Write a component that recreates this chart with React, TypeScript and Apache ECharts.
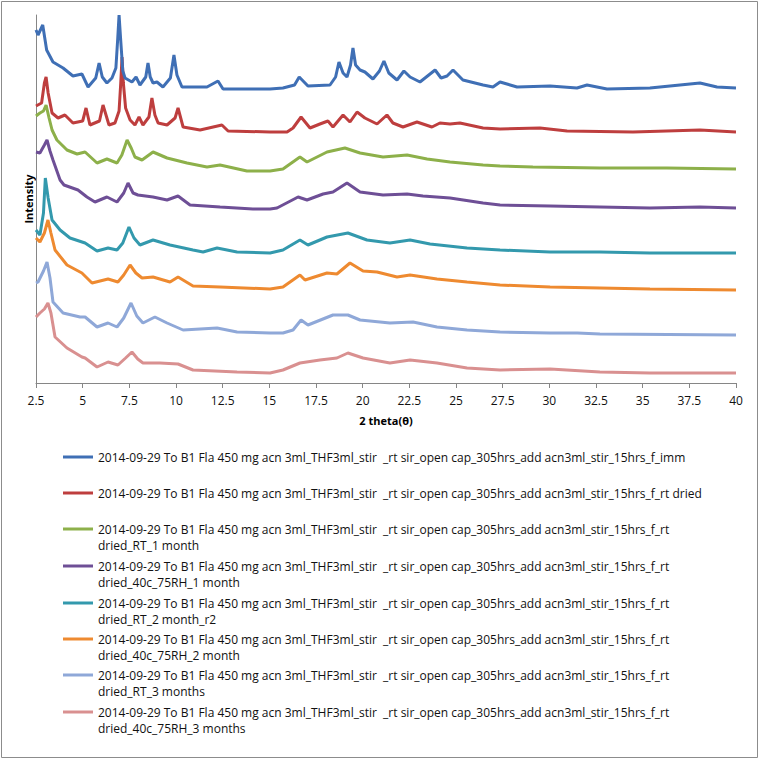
import React, { useEffect, useRef } from "react";
import * as echarts from "echarts";

// 2θ axis ticks
const xMin = 2.5;
const xMax = 40;
const xStep = 2.5;

const baseName =
  "2014-09-29 To B1 Fla 450 mg acn 3ml_THF3ml_stir  _rt sir_open cap_305hrs_add acn3ml_stir_15hrs_f_";
const seriesNames = [
  baseName + "imm",
  baseName + "rt dried",
  baseName + "rt dried_RT_1 month",
  baseName + "rt dried_40c_75RH_1 month",
  baseName + "rt dried_RT_2 month_r2",
  baseName + "rt dried_40c_75RH_2 month",
  baseName + "rt dried_RT_3 months",
  baseName + "rt dried_40c_75RH_3 months",
];
const colors = ["#3F6FB5", "#BE3E3E", "#8DB04A", "#6E4F96", "#3399AD", "#EE8A30", "#8FA8D8", "#D99090"];

// [2θ, intensity (arbitrary, stacked offsets)]
const imm = [
  [2.5, 353], [2.61, 348], [2.86, 358], [3.07, 333], [3.41, 321], [3.95, 315], [4.48, 307], [4.96, 309],
  [5.29, 296], [5.7, 305], [5.88, 320], [6.05, 306], [6.3, 300], [6.57, 305], [6.78, 315], [6.88, 345],
  [6.95, 368], [7.03, 345], [7.15, 312], [7.27, 305], [7.64, 301], [7.86, 306], [8.07, 298], [8.38, 306],
  [8.5, 320], [8.62, 306], [8.77, 300], [8.98, 301], [9.3, 296], [9.7, 305], [9.89, 328], [10.05, 308],
  [10.32, 296], [11.66, 296], [12.25, 302], [12.52, 294], [15.04, 294], [15.73, 295], [16.35, 298],
  [16.6, 306], [17.07, 297], [18.25, 298], [18.55, 306], [18.73, 321], [18.95, 310], [19.16, 306],
  [19.35, 318], [19.48, 335], [19.62, 318], [19.86, 313], [20.12, 311], [20.55, 304], [20.9, 312],
  [21.14, 322], [21.4, 310], [21.84, 303], [22.21, 312], [22.54, 306], [23.07, 301], [23.88, 313],
  [24.2, 305], [24.52, 307], [24.84, 313], [25.37, 303], [26.45, 298], [26.98, 296], [27.36, 301],
  [28.27, 296], [30.04, 297], [31.48, 295], [32.02, 298], [33.09, 294], [35.39, 295], [38.07, 300],
  [38.98, 296], [40, 295],
];
const rtDried = [
  [2.5, 277], [2.8, 280], [2.95, 300], [3.04, 306], [3.15, 290], [3.36, 270], [3.68, 265], [4.05, 268],
  [4.48, 260], [5.0, 262], [5.18, 275], [5.39, 258], [5.9, 262], [6.09, 278], [6.41, 258], [6.73, 260],
  [6.95, 272], [7.04, 300], [7.11, 326], [7.18, 300], [7.3, 275], [7.54, 263], [7.8, 258], [8.02, 266],
  [8.23, 258], [8.55, 266], [8.71, 285], [8.87, 268], [9.04, 260], [9.52, 258], [9.95, 265], [10.11, 275],
  [10.38, 256], [11.29, 253], [12.46, 258], [12.79, 252], [15.04, 251], [15.95, 251], [16.27, 255],
  [16.7, 266], [17.18, 255], [17.71, 259], [18.14, 262], [18.41, 256], [18.95, 268], [19.32, 261],
  [19.7, 271], [20.12, 265], [20.77, 259], [21.3, 268], [21.62, 260], [22.16, 256], [22.91, 261],
  [23.71, 256], [24.14, 260], [24.68, 259], [25.21, 260], [26.45, 255], [27.36, 254], [29.5, 255],
  [30.95, 252], [34.48, 251], [38.07, 253], [40, 251],
];
const rt1m = [
  [2.5, 267], [2.71, 270], [2.9, 272], [3.04, 278], [3.2, 265], [3.36, 253], [3.62, 243], [4.16, 233],
  [4.7, 229], [5.13, 231], [5.77, 220], [6.3, 224], [6.84, 220], [7.1, 228], [7.38, 243], [7.6, 235],
  [7.8, 226], [8.18, 223], [8.77, 231], [9.52, 225], [10.59, 220], [11.66, 216], [12.36, 218],
  [13.8, 212], [15.04, 212], [15.73, 214], [16.64, 226], [17.02, 221], [18.09, 231], [19.05, 235],
  [19.86, 230], [21.09, 226], [22.38, 228], [23.45, 224], [24.68, 221], [26.45, 218], [27.36, 217],
  [29.12, 216], [32.71, 215], [36.3, 215], [40, 214],
];
const rh1m = [
  [2.5, 231], [2.71, 230], [2.95, 238], [3.09, 243], [3.25, 232], [3.41, 223], [3.79, 203], [4.0, 198],
  [4.75, 193], [5.23, 186], [5.66, 181], [6.3, 186], [6.84, 181], [7.2, 190], [7.43, 200], [7.7, 190],
  [7.96, 188], [8.77, 186], [9.52, 183], [10.11, 187], [10.75, 178], [12.36, 176], [14.12, 174],
  [15.04, 174], [15.41, 175], [16.54, 186], [17.02, 183], [17.88, 189], [18.41, 191], [19.16, 200],
  [19.86, 191], [21.09, 188], [22.38, 189], [23.23, 187], [24.68, 185], [26.45, 180], [27.36, 178],
  [30.04, 177], [32.71, 176], [35.39, 175], [38.07, 176], [40, 175],
];
const rt2m = [
  [2.5, 153], [2.71, 148], [2.9, 170], [3.0, 205], [3.15, 185], [3.36, 163], [3.79, 153], [4.32, 145],
  [5.13, 140], [5.77, 132], [6.36, 135], [6.84, 133], [7.15, 140], [7.48, 156], [7.75, 145], [8.07, 138],
  [8.77, 143], [9.68, 138], [10.91, 133], [11.45, 131], [12.2, 135], [13.27, 131], [15.04, 130],
  [15.73, 133], [16.64, 143], [17.07, 138], [18.09, 146], [19.21, 150], [20.23, 143], [21.46, 140],
  [22.54, 143], [23.61, 139], [25.59, 135], [27.36, 133], [30.04, 131], [32.71, 131], [35.39, 130],
  [40, 130],
];
const rh2m = [
  [2.5, 145], [2.71, 141], [2.95, 150], [3.14, 163], [3.3, 150], [3.52, 133], [4.16, 118], [4.96, 110],
  [5.5, 100], [6.36, 104], [6.89, 101], [7.2, 108], [7.54, 118], [7.85, 110], [8.18, 105], [8.77, 106],
  [9.68, 101], [10.11, 106], [10.91, 97], [12.36, 96], [15.04, 94], [15.73, 96], [16.64, 108],
  [16.91, 103], [18.09, 110], [18.62, 109], [19.32, 120], [20.02, 112], [20.77, 111], [21.84, 106],
  [22.54, 108], [23.98, 104], [25.59, 101], [27.36, 98], [30.04, 96], [32.71, 95], [35.39, 94], [40, 93],
];
const rt3m = [
  [2.5, 100], [2.61, 101], [2.9, 112], [3.09, 121], [3.25, 105], [3.41, 81], [3.95, 70], [4.86, 66],
  [5.13, 66], [5.77, 56], [6.36, 60], [6.84, 56], [7.2, 65], [7.59, 80], [7.9, 67], [8.23, 60],
  [8.87, 66], [9.52, 60], [10.38, 53], [12.2, 55], [13.27, 51], [15.04, 50], [15.73, 50], [16.27, 53],
  [16.7, 63], [17.07, 58], [18.41, 68], [19.21, 68], [19.86, 63], [21.46, 60], [22.7, 61], [23.98, 56],
  [25.59, 53], [27.36, 51], [30.04, 50], [31.5, 50], [32.71, 49], [40, 48],
];
const rh3m = [
  [2.5, 66], [2.71, 70], [2.95, 74], [3.14, 80], [3.3, 70], [3.52, 46], [4.16, 35], [4.96, 26],
  [5.13, 25], [5.77, 16], [6.36, 21], [6.89, 18], [7.3, 25], [7.64, 31], [7.95, 24], [8.23, 20],
  [9.14, 20], [10.11, 19], [10.91, 13], [13.27, 11], [15.04, 10], [15.73, 13], [16.64, 20], [17.71, 23],
  [18.62, 25], [19.21, 30], [20.02, 25], [21.46, 20], [22.54, 23], [23.98, 20], [25.59, 15], [27.36, 13],
  [30.04, 14], [32.71, 11], [35.39, 10], [40, 10],
];
const seriesData = [imm, rtDried, rt1m, rh1m, rt2m, rh2m, rt3m, rh3m];

const FONT = "'Open Sans', sans-serif";
const legendRowCenters = [457, 493, 529, 566, 603, 639, 675, 712];
const LH = 16;

export default function App() {
  const ref = useRef<HTMLDivElement>(null);
  useEffect(() => {
    if (!ref.current) return;
    const chart = echarts.init(ref.current, null, { renderer: "svg" });
    const isTwoLine = (n: string) => n.indexOf("dried_") >= 0;
    const wrap = (n: string) =>
      isTwoLine(n) ? " \n" + n.replace("_f_rt dried_", "_f_rt\ndried_") : n;
    chart.setOption({
      animation: false,
      backgroundColor: "#ffffff",
      graphic: [
        {
          type: "rect",
          shape: { x: 1.5, y: 1.5, width: 756, height: 756 },
          style: { fill: "none", stroke: "#8c8c8c", lineWidth: 1 },
          silent: true,
        },
      ],
      grid: { left: 36, right: 23, top: 15, bottom: 376, containLabel: false },
      xAxis: {
        type: "value",
        min: xMin,
        max: xMax,
        interval: xStep,
        name: "2 theta(θ)",
        nameLocation: "middle",
        nameGap: 32,
        nameTextStyle: { fontFamily: FONT, fontSize: 11, fontWeight: "bold", color: "#000" },
        axisLine: { show: true, lineStyle: { color: "#868686", width: 1 } },
        axisTick: { show: true, inside: false, length: 5, lineStyle: { color: "#868686" } },
        axisLabel: { fontFamily: FONT, fontSize: 12, color: "#111", margin: 11 },
        splitLine: { show: false },
      },
      yAxis: {
        type: "value",
        min: 0,
        max: 368,
        name: "Intensity",
        nameLocation: "middle",
        nameGap: 2,
        nameTextStyle: { fontFamily: FONT, fontSize: 11, fontWeight: "bold", color: "#000" },
        axisLine: { show: true, lineStyle: { color: "#868686", width: 1 } },
        axisTick: { show: false },
        axisLabel: { show: false },
        splitLine: { show: false },
      },
      legend: seriesNames.map((n, i) => ({
        data: [n],
        left: 63,
        top: legendRowCenters[i] - (isTwoLine(n) ? 1.5 * LH : 0.5 * LH),
        orient: "vertical",
        padding: 0,
        itemGap: 0,
        itemWidth: 30,
        itemHeight: 3,
        icon: "rect",
        selectedMode: false,
        formatter: wrap,
        textStyle: {
          fontFamily: FONT,
          fontSize: 12,
          color: "#111",
          lineHeight: LH,
        },
      })),
      series: seriesNames.map((n, i) => ({
        name: n,
        type: "line",
        data: seriesData[i],
        symbol: "none",
        showSymbol: false,
        color: colors[i],
        lineStyle: { width: 3, color: colors[i] },
        z: 10 - i,
      })),
    });
    return () => chart.dispose();
  }, []);
  return (
    <div
      ref={ref}
      style={{ position: "absolute", left: 0, top: 0, width: 759, height: 759, background: "#fff" }}
    />
  );
}
